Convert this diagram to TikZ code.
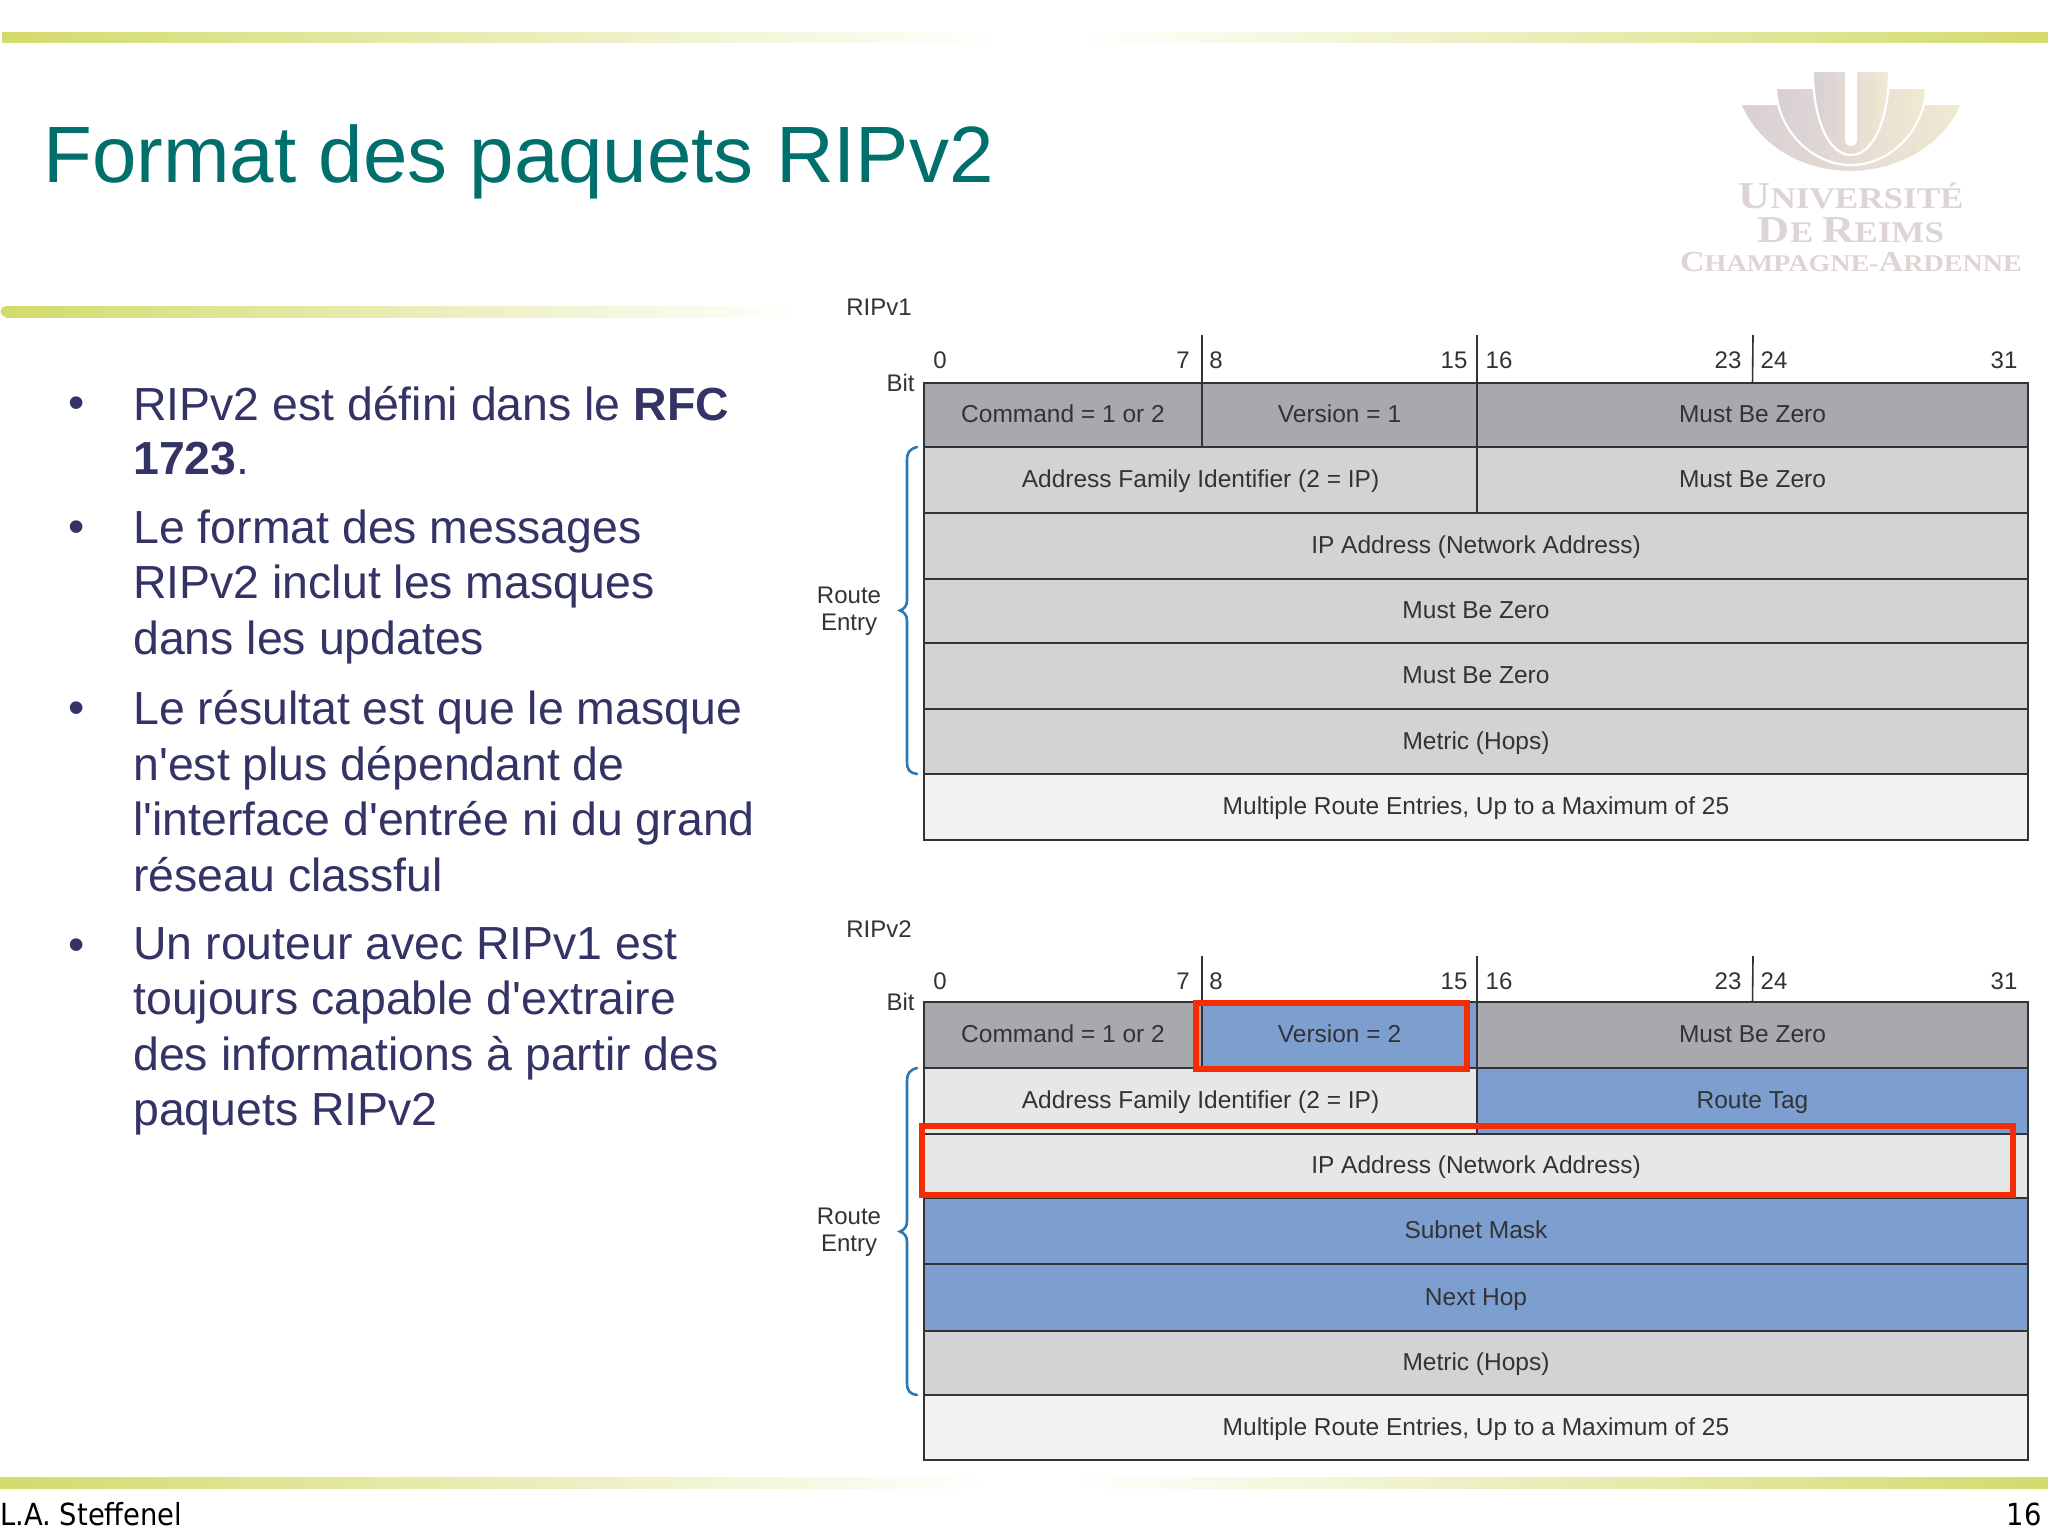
\documentclass[tikz,border=0pt]{standalone}
\usepackage{fontspec}
\setmainfont{Liberation Sans}
\newfontfamily\bodyfont{Liberation Sans}
\newfontfamily\logofont[FakeStretch=1.17]{Liberation Serif}
\newfontfamily\footfont[FakeStretch=0.9]{DejaVu Sans}
\definecolor{titleteal}{HTML}{00706C}
\definecolor{bodyblue}{HTML}{333366}
\definecolor{barlime}{HTML}{D3DB6C}
\definecolor{hdrgray}{HTML}{A7A9AC}
\definecolor{midgray}{HTML}{D1D3D4}
\definecolor{palegray}{HTML}{E6E7E8}
\definecolor{lastgray}{HTML}{F1F2F2}
\definecolor{fieldblue}{HTML}{7C9FD0}
\definecolor{markred}{HTML}{F42D05}
\definecolor{bracecol}{HTML}{2A78B4}
\definecolor{inkgray}{HTML}{333335}
\definecolor{linegray}{HTML}{333335}
\definecolor{logoL}{HTML}{D8CFD4}
\definecolor{logoR}{HTML}{F0E9D2}
\definecolor{logotxt}{HTML}{DCD5D3}
\tikzset{
  cellbox/.style={draw=linegray,line width=1pt,inner sep=0pt,outer sep=0pt,text=inkgray,
    font=\fontsize{12.25}{14}\selectfont,text height=9.8pt,text depth=2.2pt},
  hdr/.style={fill=hdrgray},
  mid/.style={fill=midgray},
  pale/.style={fill=palegray},
  last/.style={fill=lastgray},
  blu/.style={fill=fieldblue},
  tick/.style={draw=linegray,line width=0.8pt},
  lab/.style={text=inkgray,font=\fontsize{12}{13.6}\selectfont,inner sep=0pt,align=center},
  redbox/.style={draw=markred,line width=2.6pt,fill=none,inner sep=0pt,outer sep=0pt},
  brc/.style={draw=bracecol,line width=1.3pt,line cap=round},
  bul/.style={text=bodyblue,anchor=north west,inner sep=0pt,align=left,
    font=\bodyfont\fontsize{23.2}{27.75}\selectfont},
  dot/.style={text=bodyblue,inner sep=0pt,font=\bodyfont\fontsize{23.2}{27.75}\selectfont},
  logotext/.style={text=logotxt,inner sep=0pt,anchor=base,font=\logofont\bfseries},
  bar/.style={draw=none},
  logoshape/.style={draw=white,line width=1.1pt,left color=logoL,right color=logoR},
}
\newcommand{\cellat}[7]{\node[cellbox,#6,minimum width={(#4-#2)*0.5pt},minimum height={(#5-#3)*0.5pt}] (#1) at ({(#2+#4)/2},{(#3+#5)/2}) {#7};}
\newcommand{\numsrow}[2]{%
  \node[lab] (#1n0) at (940,#2) {0};
  \node[lab] (#1n7) at (1183,#2) {7};
  \node[lab] (#1n8) at (1216,#2) {8};
  \node[lab] (#1n15) at (1454,#2) {15};
  \node[lab] (#1n16) at (1499,#2) {16};
  \node[lab] (#1n23) at (1728,#2) {23};
  \node[lab] (#1n24) at (1774,#2) {24};
  \node[lab] (#1n31) at (2004,#2) {31};}
\begin{document}
\begin{tikzpicture}[x=0.5pt,y=-0.5pt]
\useasboundingbox (0,0) rectangle (2048,1537);
\fill[white] (0,0) rectangle (2048,1537);
% bars
\fill[bar,left color=barlime,right color=white] (2,32) rectangle (1000,42);
\fill[bar,left color=white,right color=barlime] (1080,32) rectangle (2048,42);
\fill[barlime] (6,311.5) circle[radius=5.5];
\fill[bar,left color=barlime,right color=white] (6,306) rectangle (800,317);
\fill[bar,left color=barlime,right color=white] (0,1477) rectangle (990,1488);
\fill[bar,left color=white,right color=barlime] (1070,1477) rectangle (2048,1488);
% title
\node[text=titleteal,anchor=base west,inner sep=0pt,font=\fontsize{39.95}{48}\selectfont] (title) at (43,182) {Format des paquets RIPv2};
% logo
\path[logoshape] (1740,104) -- (1962,104) .. controls (1945,145) and (1900,172) .. (1850,172) .. controls (1800,172) and (1757,145) .. (1740,104) -- cycle;
\path[logoshape] (1776,88) -- (1926,88) .. controls (1925,130) and (1890,165) .. (1851,165) .. controls (1812,165) and (1777,130) .. (1776,88) -- cycle;
\path[logoshape] (1813,71) -- (1889,71) .. controls (1889,120) and (1873,155) .. (1851,155) .. controls (1829,155) and (1813,120) .. (1813,71) -- cycle;
\fill[white] (1845,68) -- (1857,68) -- (1857,140) arc[start angle=0,end angle=180,radius=6] -- cycle;
\node[logotext] (logoa) at (1851,208) {\fontsize{19}{20}\selectfont U\fontsize{15}{20}\selectfont NIVERSITÉ};
\node[logotext] (logob) at (1851,242) {\fontsize{19}{20}\selectfont D\fontsize{15}{20}\selectfont E \fontsize{19}{20}\selectfont R\fontsize{15}{20}\selectfont EIMS};
\node[logotext] (logoc) at (1851,271) {\fontsize{14.5}{20}\selectfont C\fontsize{12}{20}\selectfont HAMPAGNE-\fontsize{14.5}{20}\selectfont A\fontsize{12}{20}\selectfont RDENNE};
% bullets
\node[dot] (d1) at (77,408) {•};
\node[dot] (d2) at (77,532) {•};
\node[dot] (d3) at (77,713) {•};
\node[dot] (d4) at (77,950) {•};
\node[bul,font=\bodyfont\fontsize{23.2}{27}\selectfont] (b1) at (133,386) {RIPv2 est défini dans le \textbf{RFC}\\\textbf{1723}.};
\node[bul] (b2) at (133,509) {Le format des messages\\RIPv2 inclut les masques\\dans les updates};
\node[bul] (b3) at (133,690) {Le résultat est que le masque\\n'est plus dépendant de\\l'interface d'entrée ni du grand\\réseau classful};
\node[bul] (b4) at (133,927) {Un routeur avec RIPv1 est\\toujours capable d'extraire\\des informations à partir des\\paquets RIPv2};
% footer
\node[anchor=base west,inner sep=0pt,text=black,font=\footfont\fontsize{15.2}{18}\selectfont] (foota) at (0,1525) {L.A. Steffenel};
\node[anchor=base east,inner sep=0pt,text=black,font=\footfont\fontsize{15.2}{18}\selectfont] (footb) at (2042,1525) {16};
% RIPv1 table
\node[lab,anchor=west] (v1) at (846,307) {RIPv1};
\numsrow{a}{360}
\node[lab,anchor=east] (abit) at (915,383) {Bit};
\node[lab] (aroute) at (849,611) {Route\\Entry};
\cellat{a11}{924}{383}{1202}{447}{hdr}{Command = 1 or 2}
\cellat{a12}{1202}{383}{1477}{447}{hdr}{Version = 1}
\cellat{a13}{1477}{383}{2028}{447}{hdr}{Must Be Zero}
\cellat{a21}{924}{447}{1477}{513}{mid}{Address Family Identifier (2 = IP)}
\cellat{a22}{1477}{447}{2028}{513}{mid}{Must Be Zero}
\cellat{a3}{924}{513}{2028}{579}{mid}{IP Address (Network Address)}
\cellat{a4}{924}{579}{2028}{643}{mid}{Must Be Zero}
\cellat{a5}{924}{643}{2028}{709}{mid}{Must Be Zero}
\cellat{a6}{924}{709}{2028}{774}{mid}{Metric (Hops)}
\cellat{a7}{924}{774}{2028}{840}{last}{Multiple Route Entries, Up to a Maximum of 25}
\coordinate (at1) at (1202,335);
\coordinate (at2) at (1477,335);
\coordinate (at3) at (1753,335);
\draw[tick] (at1) -- (a11.north east);
\draw[tick] (at2) -- (a12.north east);
\draw[tick] (at3) -- (a13.north);
\path[brc] (917,447) .. controls (910,449) and (907,452) .. (907,460) -- (907,600) .. controls (907,606) and (904,609) .. (900,610.5) .. controls (904,612) and (907,615) .. (907,621) -- (907,762) .. controls (907,770) and (910,773) .. (917,774);
% RIPv2 table
\node[lab,anchor=west] (v2) at (846,929) {RIPv2};
\numsrow{c}{981}
\node[lab,anchor=east] (cbit) at (915,1002) {Bit};
\node[lab] (croute) at (849,1232) {Route\\Entry};
\cellat{c11}{924}{1002}{1202}{1068}{hdr}{Command = 1 or 2}
\cellat{c12}{1202}{1002}{1477}{1068}{blu}{Version = 2}
\cellat{c13}{1477}{1002}{2028}{1068}{hdr}{Must Be Zero}
\cellat{c21}{924}{1068}{1477}{1134}{pale}{Address Family Identifier (2 = IP)}
\cellat{c22}{1477}{1068}{2028}{1134}{blu}{Route Tag}
\cellat{c3}{924}{1134}{2028}{1198}{pale}{IP Address (Network Address)}
\cellat{c4}{924}{1198}{2028}{1264}{blu}{Subnet Mask}
\cellat{c5}{924}{1264}{2028}{1331}{blu}{Next Hop}
\cellat{c6}{924}{1331}{2028}{1395}{mid}{Metric (Hops)}
\cellat{c7}{924}{1395}{2028}{1460}{last}{Multiple Route Entries, Up to a Maximum of 25}
\coordinate (ct1) at (1202,956);
\coordinate (ct2) at (1477,956);
\coordinate (ct3) at (1753,956);
\draw[tick] (ct1) -- (c11.north east);
\draw[tick] (ct2) -- (c12.north east);
\draw[tick] (ct3) -- (c13.north);
\path[brc] (917,1068) .. controls (910,1070) and (907,1073) .. (907,1081) -- (907,1221) .. controls (907,1227) and (904,1230) .. (900,1231.5) .. controls (904,1233) and (907,1236) .. (907,1242) -- (907,1383) .. controls (907,1391) and (910,1394) .. (917,1395);
% red marks
\node[redbox,minimum width={(1467-1196)*0.5pt},minimum height={(1069-1003)*0.5pt}] (rv) at ({(1196+1467)/2},{(1003+1069)/2}) {};
\node[redbox,minimum width={(2013-922)*0.5pt},minimum height={(1195-1126)*0.5pt}] (ri) at ({(922+2013)/2},{(1126+1195)/2}) {};
\end{tikzpicture}
\end{document}
